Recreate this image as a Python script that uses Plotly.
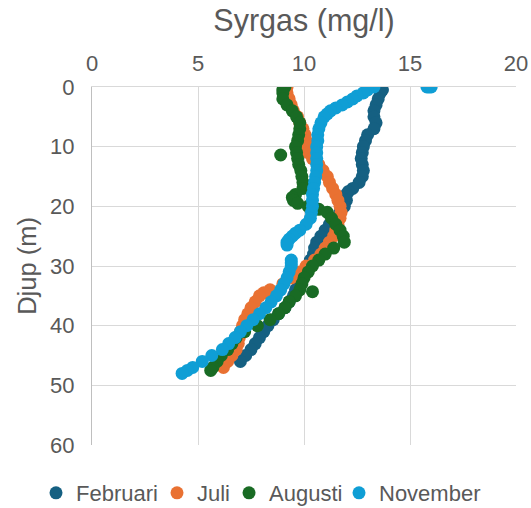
import plotly.graph_objects as go

# Februari
feb_depth = [0, 0.5, 1, 2, 3, 4, 5, 6, 7, 8, 9, 10, 11, 12, 13, 14, 15, 16, 17, 17.5, 18, 19, 20,
             21, 22, 23, 24, 25, 26, 27, 28, 29, 30, 31, 32, 33, 34, 35, 36, 37, 38, 39, 40,
             41, 42, 43, 44, 45, 46]
feb_o2 = [13.6, 13.7, 13.6, 13.5, 13.4, 13.3, 13.3, 13.4, 13.3, 13.0, 12.9, 12.8, 12.75, 12.7, 12.75,
          12.8, 12.75, 12.6, 12.3, 12.1, 12.0, 12.0, 11.9, 11.7, 11.4, 11.2, 11.0, 10.8, 10.6, 10.5,
          10.45, 10.3, 10.2, 10.1, 9.9, 9.75, 9.6, 9.5, 9.3, 9.1, 8.8, 8.55, 8.3, 8.1, 7.9, 7.7,
          7.5, 7.25, 7.0]

# Juli
jul_depth = [0, 1, 2, 3, 4, 5, 6, 7, 8, 9, 10, 11, 12, 13, 14, 15, 16, 17, 18, 19, 20, 21, 22,
             23, 24, 25, 26, 27, 28, 29, 30, 31, 32, 33, 34, 34.5, 35, 36, 37, 38, 39, 40, 41,
             42, 43, 44, 45, 46, 47]
jul_o2 = [9.2, 9.2, 9.3, 9.4, 9.5, 9.7, 9.8, 9.95, 10.05, 10.1, 10.15, 10.2, 10.4, 10.7, 10.9,
          11.1, 11.2, 11.35, 11.5, 11.6, 11.7, 11.75, 11.7, 11.6, 11.5, 11.4, 11.2, 11.0, 10.8,
          10.5, 10.1, 9.8, 9.4, 9.0, 8.4, 8.1, 7.9, 7.7, 7.5, 7.35, 7.2, 7.1, 7.0, 6.95, 6.9,
          6.8, 6.6, 6.4, 6.2]

# Augusti
aug_depth = [0, 0.5, 1, 2, 3, 4, 5, 6, 7, 8, 9, 10, 11, 11.4, 12, 13, 14, 15, 16, 17, 18, 18.5,
             19, 19.5, 20, 20.5, 21, 22, 23, 24, 25, 26, 27, 28, 29, 30, 31, 32, 33, 34, 34.3,
             35, 36, 37, 38, 39, 40, 41, 42, 43, 44, 45, 46, 47, 47.5]
aug_o2 = [9.1, 9.0, 9.0, 9.0, 9.2, 9.45, 9.65, 9.8, 9.8, 9.75, 9.7, 9.6, 9.65, 8.9, 9.7, 9.75,
          9.85, 9.9, 9.95, 9.95, 9.6, 9.45, 9.5, 9.7, 10.2, 10.7, 11.1, 11.3, 11.5, 11.7, 11.85,
          11.9, 11.4, 11.0, 10.7, 10.4, 10.2, 10.0, 9.9, 9.8, 10.4, 9.6, 9.3, 9.1, 8.8, 8.4,
          7.8, 7.2, 6.8, 6.6, 6.4, 6.1, 5.9, 5.7, 5.6]

# November
nov_depth = [0, 0, 0, 0, 0.5, 1, 1.5, 2, 2.5, 3, 3.5, 4, 4.5, 5, 6, 7, 8, 9, 10, 11, 12, 13, 14,
             15, 16, 17, 18, 19, 20, 21, 22, 23, 24, 24.5, 25, 25.5, 26, 26.5, 29, 29.5, 30, 31,
             32, 33, 34, 35, 36, 37, 38, 39, 40, 41, 42, 43, 44, 45, 46, 47, 47.5, 48]
nov_o2 = [15.8, 15.9, 16.0, 13.3, 13.0, 12.8, 12.5, 12.3, 12.05, 11.8, 11.5, 11.25, 11.1, 10.95,
          10.8, 10.7, 10.65, 10.65, 10.6, 10.6, 10.6, 10.6, 10.6, 10.55, 10.5, 10.45, 10.4, 10.4,
          10.4, 10.35, 10.3, 10.1, 9.8, 9.6, 9.45, 9.3, 9.2, 9.2, 9.4, 9.4, 9.4, 9.3, 9.2, 9.05,
          8.9, 8.7, 8.45, 8.2, 7.9, 7.6, 7.3, 7.0, 6.75, 6.45, 6.15, 5.65, 5.2, 4.75, 4.5, 4.25]

series_names = ["Februari", "Juli", "Augusti", "November"]
series_colors = ["#156082", "#E97132", "#196B24", "#0F9ED5"]
series_x = [feb_o2, jul_o2, aug_o2, nov_o2]
series_y = [feb_depth, jul_depth, aug_depth, nov_depth]
legend_widths = [76, 27, 65, 110]

x_ticks = [0, 5, 10, 15, 20]
y_ticks = [0, 10, 20, 30, 40, 50, 60]

FONT = "Liberation Sans, Arial, sans-serif"
TXT = "#595959"

W, H = 531, 508
ML, MR, MT, MB = 92, 15, 87, 63
PW, PH = W - ML - MR, H - MT - MB

fig = go.Figure()
for name, color, xs, ys, lw in zip(series_names, series_colors, series_x, series_y, legend_widths):
    fig.add_trace(go.Scatter(
        x=xs, y=ys, mode="markers", name=name, legendwidth=lw,
        marker=dict(color=color, size=13, line=dict(width=0)),
    ))

fig.update_layout(
    width=W, height=H,
    margin=dict(l=ML, r=MR, t=MT, b=MB, autoexpand=False),
    paper_bgcolor="white", plot_bgcolor="white",
    font=dict(family=FONT, color=TXT),
    title=dict(text="Syrgas (mg/l)", font=dict(size=30.5, color=TXT, family=FONT),
               x=0.5, xref="paper", xanchor="center",
               y=1 - 20 / H, yref="container", yanchor="middle"),
    showlegend=True,
    legend=dict(orientation="h", xref="paper", x=(36 - ML) / PW, xanchor="left",
                yref="paper", y=(MT + PH - 493) / PH, yanchor="middle",
                font=dict(size=22, color=TXT, family=FONT),
                itemwidth=30, traceorder="normal",
                bgcolor="rgba(0,0,0,0)"),
)

fig.update_xaxes(
    range=[0, 20], side="top", tickvals=x_ticks, ticktext=[str(v) for v in x_ticks],
    showgrid=True, gridcolor="#D9D9D9", gridwidth=1.3,
    showline=True, linecolor="#D9D9D9", linewidth=1.3, mirror=False,
    zeroline=False, ticks="", tickfont=dict(size=22, color=TXT, family=FONT),
    ticklabelstandoff=6,
)
fig.update_yaxes(
    range=[60, 0], tickvals=y_ticks, ticktext=[str(v) for v in y_ticks],
    showgrid=True, gridcolor="#D9D9D9", gridwidth=1.3,
    showline=True, linecolor="#BFBFBF", linewidth=1.3,
    zeroline=False, ticks="", tickfont=dict(size=22, color=TXT, family=FONT),
    ticklabelstandoff=12,
    title=dict(text="Djup (m)", font=dict(size=25.5, color=TXT, family=FONT), standoff=6),
)

fig.write_html(
    "out.html",
    config={"displayModeBar": False},
    post_script="document.body.style.margin='0';document.body.style.overflow='hidden';",
)
